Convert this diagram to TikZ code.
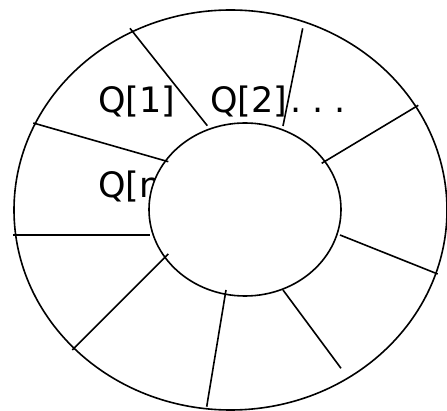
\documentclass[tikz,border=0pt]{standalone}
\usepackage{fontspec}
\setmainfont{DejaVu Sans}
\usetikzlibrary{positioning}
\tikzset{
  ring/.style       = {draw=black, line width=1.6pt},
  divider/.style    = {black, line width=1.6pt},
  slot label/.style = {font=\fontsize{35}{42}\selectfont, inner sep=0pt,
                       anchor=base west},
}
\begin{document}
\begin{tikzpicture}[x=1pt,y=-1pt]
  \useasboundingbox (0,0) rectangle (447,411);
  % outer ring of the queue
  \draw[ring] (230.5,210) ellipse [x radius=216.5pt, y radius=200pt];
  \node[slot label] (q1) at (98,113) {Q[1]};
  \node[slot label] (q2) at (210,113) {Q[2]};
  \node[slot label] (dots) at (290,113) {.\ .\ .};
  \node[slot label] (qn) at (98,198) {Q[n]};
  % inner hole covers part of the last label
  \draw[ring, fill=white] (245,209.5) ellipse [x radius=96pt, y radius=86.5pt];
  \draw[divider] (130,28.3) -- (207.3,125.7);
  \draw[divider] (302.7,28.3) -- (283,126);
  \draw[divider] (418.3,105.3) -- (321.7,163.3);
  \draw[divider] (437.7,274) -- (340,235);
  \draw[divider] (341,368.3) -- (283,290);
  \draw[divider] (206.7,406.7) -- (226,290);
  \draw[divider] (72.3,350) -- (168.3,254);
  \draw[divider] (13.3,235) -- (149.7,235);
  \draw[divider] (33.3,123) -- (168.3,161.7);
\end{tikzpicture}
\end{document}
